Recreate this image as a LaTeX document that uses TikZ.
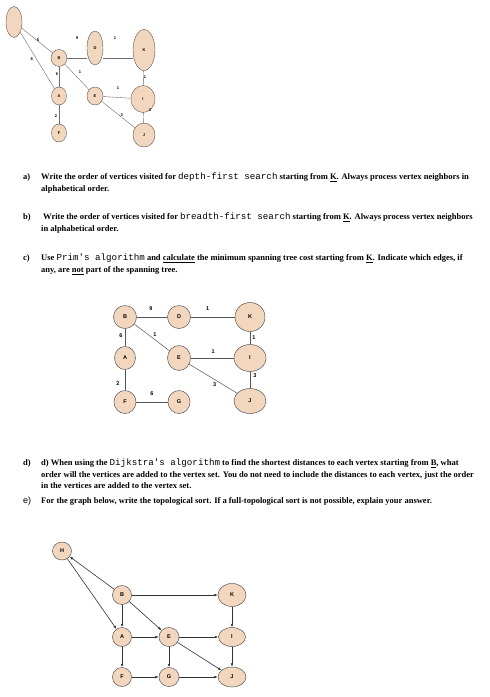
\documentclass[tikz,border=0pt]{standalone}
\usepackage{fontspec}
\setmainfont{Liberation Serif}
\setsansfont{Liberation Sans}
\setmonofont{Liberation Mono}
\usetikzlibrary{shapes.geometric,arrows.meta}

\definecolor{vfill}{RGB}{242,215,190}
\definecolor{vline}{RGB}{85,85,85}
\definecolor{eline}{RGB}{110,110,110}
\newcommand{\mono}[1]{{\fontsize{9.2}{11}\selectfont\ttfamily\mdseries #1}}

\begin{document}
\begin{tikzpicture}[x=1pt,y=-1pt,>={Latex[length=3.5pt,width=2.6pt]},
	vtx/.style={ellipse, draw=vline, fill=vfill, line width=0.5pt, inner sep=0pt, font=\fontsize{5.5}{6}\selectfont\sffamily\bfseries},
	tiny/.style={vtx, line width=0.4pt, font=\fontsize{4}{5}\selectfont\sffamily\bfseries},
	lab/.style={inner sep=0pt, font=\fontsize{5.5}{6}\selectfont\sffamily\bfseries},
	tlab/.style={inner sep=0pt, font=\fontsize{4}{5}\selectfont\sffamily\bfseries},
	tline/.style={draw=eline, line width=0.4pt},
	mline/.style={draw=vline, line width=0.5pt},
	arr/.style={draw=black!80, line width=0.6pt, ->},
	qmark/.style={anchor=base west, inner sep=0pt, font=\fontsize{8.5}{11}\selectfont\bfseries},
	qtext/.style={anchor=north west, inner sep=0pt, align=left, font=\fontsize{8.5}{11.5}\selectfont\bfseries}]
	\useasboundingbox [fill=white] (0,0) rectangle (490,697);

	% first graph
	\node [tiny, minimum width=16pt, minimum height=31pt] (h0) at (14,22) {};
	\node [tiny, minimum width=16pt, minimum height=17pt] (b0) at (59,58) {B};
	\node [tiny, minimum width=16pt, minimum height=34pt] (d0) at (95,48) {D};
	\node [tiny, minimum width=22pt, minimum height=41pt] (k0) at (144,50) {K};
	\node [tiny, minimum width=15pt, minimum height=18pt] (a0) [node distance=38pt, below of=b0] {A};
	\node [tiny, minimum width=16pt, minimum height=18pt] (e0) at (95,96) {E};
	\node [tiny, minimum width=24pt, minimum height=27pt] (i0) at (143,99) {I};
	\node [tiny, minimum width=15pt, minimum height=18pt] (f0) [node distance=37pt, below of=a0] {F};
	\node [tiny, minimum width=22pt, minimum height=24pt] (j0) at (144,135) {J};

	\path [tline] (h0) edge node [tlab, xshift=1pt] {5} (b0);
	\path [tline] (h0) edge node [tlab, xshift=-5.5pt, yshift=1pt] {8} (a0);
	\path [tline] (b0) edge node [tlab, yshift=20pt] {9} (d0.west |- b0);
	\path [tline] (d0.east |- b0) edge node [tlab, xshift=-3pt, yshift=20pt] {1} (k0.west |- b0);
	\path [tline] (b0) edge node [tlab, xshift=-2pt, yshift=3pt] {6} (a0);
	\path [tline] (b0) edge node [tlab, xshift=3pt, yshift=5pt] {1} (e0);
	\path [tline] (e0) edge node [tlab, xshift=1pt, yshift=9pt] {1} (i0);
	\path [tline] (k0) edge node [tlab, xshift=1.5pt, yshift=1pt] {1} (i0);
	\path [tline] (i0) edge node [tlab, xshift=6.5pt, yshift=8pt] {3} (j0);
	\path [tline] (e0) edge node [tlab, xshift=3.5pt, yshift=-1pt] {3} (j0);
	\path [tline] (a0) edge node [tlab, xshift=-3pt, yshift=-1.5pt] {2} (f0);

	% questions a) to c)
	\node [qmark] (qa) at (23,179) {a)};
	\node [qtext] (ta) at (41,173) {Write the order of vertices visited for \mono{depth-first search} starting from \underline{K}. Always process vertex neighbors in\\alphabetical order.};
	\node [qmark] (qb) at (23,219) {b)};
	\node [qtext] (tb) at (41,213) {\hspace{2pt}Write the order of vertices visited for \mono{breadth-first search} starting from \underline{K}. Always process vertex neighbors\\in alphabetical order.};
	\node [qmark] (qc) at (23,260) {c)};
	\node [qtext] (tc) at (41,254) {Use \mono{Prim's algorithm} and \underline{calculate} the minimum spanning tree cost starting from \underline{K}. Indicate which edges, if\\any, are \underline{not} part of the spanning tree.};

	% second graph
	\node [vtx, minimum width=23pt, minimum height=23pt] (b1) at (125,317) {B};
	\node [vtx, minimum width=23pt, minimum height=23pt] (d1) [node distance=54pt, right of=b1] {D};
	\node [vtx, minimum width=30pt, minimum height=29pt] (k1) [node distance=71pt, right of=d1] {K};
	\node [vtx, minimum width=21pt, minimum height=23pt] (a1) [node distance=41pt, below of=b1] {A};
	\node [vtx, minimum width=23pt, minimum height=25pt] (e1) [node distance=41pt, below of=d1] {E};
	\node [vtx, minimum width=32pt, minimum height=27pt] (i1) [node distance=41pt, below of=k1] {I};
	\node [vtx, minimum width=22pt, minimum height=23pt] (f1) [node distance=44pt, below of=a1] {F};
	\node [vtx, minimum width=22pt, minimum height=23pt] (g1) [node distance=44pt, below of=e1] {G};
	\node [vtx, minimum width=32pt, minimum height=25pt] (j1) [node distance=43pt, below of=i1] {J};

	\path [mline] (b1) edge node [lab, xshift=-1pt, yshift=8pt] {9} (d1);
	\path [mline] (d1) edge node [lab, xshift=-5pt, yshift=8pt] {1} (k1);
	\path [mline] (b1) edge node [lab, xshift=-4pt, yshift=1.5pt] {6} (a1);
	\path [mline] (b1) edge node [lab, xshift=3pt, yshift=3pt] {1} (e1);
	\path [mline] (e1) edge node [lab, xshift=1pt, yshift=6pt] {1} (i1);
	\path [mline] (k1) edge node [lab, xshift=4pt] {1} (i1);
	\path [mline] (i1) edge node [lab, xshift=5pt, yshift=4pt] {3} (j1);
	\path [mline] (e1) edge node [lab, xshift=1.5pt, yshift=-6pt] {3} (j1);
	\path [mline] (a1) edge node [lab, xshift=-7pt, yshift=-4pt] {2} (f1);
	\path [mline] (f1) edge node [lab, yshift=8pt] {6} (g1);

	% questions d) and e)
	\node [qmark] (qd) at (23,465) {d)};
	\node [qtext] (td) at (41,459) {d) When using the \mono{Dijkstra's algorithm} to find the shortest distances to each vertex starting from \underline{B}, what\\order will the vertices are added to the vertex set. You do not need to include the distances to each vertex, just the order\\in the vertices are added to the vertex set.};
	\node [qmark, font=\fontsize{9}{11}\selectfont\sffamily] (qe) at (23,503) {e)};
	\node [qtext] (te) at (41,497) {For the graph below, write the topological sort. If a full-topological sort is not possible, explain your answer.};

	% third graph
	\node [vtx, minimum width=19pt, minimum height=18pt] (h2) at (62,551) {H};
	\node [vtx, minimum width=19pt, minimum height=19pt] (b2) at (122,595) {B};
	\node [vtx, minimum width=28pt, minimum height=23pt] (k2) [node distance=110pt, right of=b2] {K};
	\node [vtx, minimum width=19pt, minimum height=19pt] (a2) [node distance=42pt, below of=b2] {A};
	\node [vtx, minimum width=20pt, minimum height=19pt] (e2) [node distance=47pt, right of=a2] {E};
	\node [vtx, minimum width=27pt, minimum height=19pt] (i2) [node distance=42pt, below of=k2] {I};
	\node [vtx, minimum width=19pt, minimum height=19pt] (f2) [node distance=40pt, below of=a2] {F};
	\node [vtx, minimum width=20pt, minimum height=19pt] (g2) [node distance=40pt, below of=e2] {G};
	\node [vtx, minimum width=28pt, minimum height=20pt] (j2) [node distance=40pt, below of=i2] {J};

	\path [arr] (b2) edge (h2);
	\path [arr] (h2) edge (a2);
	\path [arr] (b2) edge (k2);
	\path [arr] (b2) edge (a2);
	\path [arr] (b2) edge (e2);
	\path [arr] (a2) edge (e2);
	\path [arr] (e2) edge (i2);
	\path [arr] (k2) edge (i2);
	\path [arr] (a2) edge (f2);
	\path [arr] (e2) edge (g2);
	\path [arr] (e2) edge (j2);
	\path [arr] (i2) edge (j2);
	\path [arr] (f2) edge (g2);
	\path [arr] (g2) edge (j2);
\end{tikzpicture}
\end{document}
